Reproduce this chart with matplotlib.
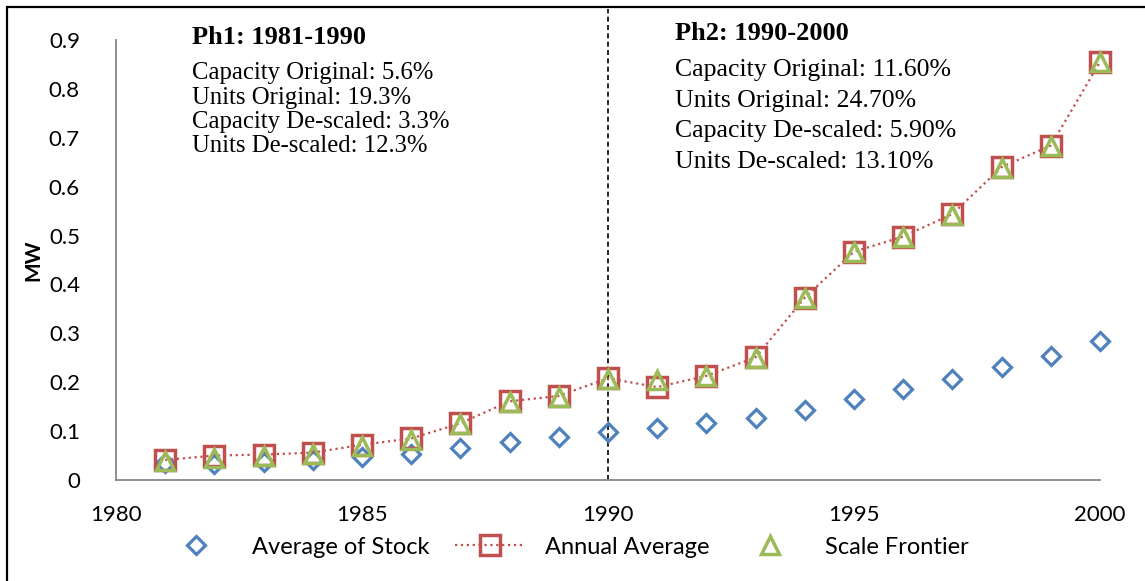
import matplotlib
matplotlib.use("Agg")
import matplotlib.pyplot as plt
from matplotlib.patches import Rectangle

# values
years = list(range(1981, 2001))
avg_stock = [0.035, 0.033, 0.036, 0.041, 0.048, 0.054, 0.065, 0.077, 0.088, 0.099,
             0.107, 0.116, 0.127, 0.144, 0.165, 0.186, 0.206, 0.231, 0.254, 0.284]
annual_avg = [0.041, 0.050, 0.052, 0.056, 0.072, 0.085, 0.116, 0.161, 0.172, 0.208,
              0.190, 0.213, 0.251, 0.373, 0.467, 0.498, 0.544, 0.640, 0.684, 0.855]
scale_frontier = [0.038, 0.046, 0.049, 0.054, 0.070, 0.082, 0.115, 0.160, 0.170, 0.206,
                  0.204, 0.212, 0.249, 0.372, 0.466, 0.497, 0.543, 0.639, 0.683, 0.854]
yticks = [0, 0.1, 0.2, 0.3, 0.4, 0.5, 0.6, 0.7, 0.8, 0.9]
xticks = [1980, 1985, 1990, 1995, 2000]
ph1_lines = ["Capacity Original: 5.6%", "Units Original: 19.3%",
             "Capacity De-scaled: 3.3%", "Units De-scaled: 12.3%"]
ph2_lines = ["Capacity Original: 11.60%", "Units Original: 24.70%",
             "Capacity De-scaled: 5.90%", "Units De-scaled: 13.10%"]

W, H = 1145, 581
fig = plt.figure(figsize=(W / 100, H / 100), dpi=100)
ax = fig.add_axes([116 / W, 1 - 480 / H, (1100 - 116) / W, (480 - 40) / H])

blue = "#4F81BD"
red = "#C0504D"
green = "#9BBB59"

ax.plot(years, avg_stock, linestyle="none", marker="D", ms=9.5, mfc="none",
        mec=blue, mew=2.3, label="Average of Stock", zorder=3, clip_on=False)
ax.plot(years, annual_avg, linestyle=":", color=red, lw=1.6, marker="s", ms=14,
        mfc="none", mec=red, mew=2.5, label="Annual Average", zorder=4, clip_on=False)
ax.plot(years, scale_frontier, linestyle="none", marker="^", ms=13, mfc="none",
        mec=green, mew=2.5, label="Scale Frontier", zorder=5, clip_on=False)

ax.set_xlim(1980, 2000)
ax.set_ylim(0, 0.9)
ax.set_xticks(xticks)
ax.set_yticks(yticks)
ax.set_yticklabels(["0"] + ["%.1f" % v for v in yticks[1:]])
for s in ["top", "right"]:
    ax.spines[s].set_visible(False)
for s in ["left", "bottom"]:
    ax.spines[s].set_color("#868686")
    ax.spines[s].set_linewidth(1.3)
ax.tick_params(length=0, labelsize=16)
ax.tick_params(axis="x", pad=18)
ax.tick_params(axis="y", pad=26)
for lab in ax.get_xticklabels() + ax.get_yticklabels():
    lab.set_fontfamily("Lato")
ax.set_ylabel("MW", fontsize=15, fontweight="bold", fontfamily="Lato", labelpad=4)

# phase divider
ax.axvline(1990, ymin=0, ymax=1.07, color="black", lw=1.2, ls=(0, (3, 2)),
           clip_on=False, zorder=2)

# phase annotations
serif = "Liberation Serif"
fig.text(192 / W, 1 - 38 / H, "Ph1: 1981-1990", fontsize=19, fontweight="bold",
         fontfamily=serif, va="center")
for i, t in enumerate(ph1_lines):
    fig.text(192 / W, 1 - (73 + 24.5 * i) / H, t, fontsize=17.8,
             fontfamily=serif, va="center")
fig.text(675 / W, 1 - 33 / H, "Ph2: 1990-2000", fontsize=19, fontweight="bold",
         fontfamily=serif, va="center")
for i, t in enumerate(ph2_lines):
    fig.text(675 / W, 1 - (70 + 30.7 * i) / H, t, fontsize=18.5,
             fontfamily=serif, va="center")

fig.legend(loc="center", bbox_to_anchor=(0.494, 1 - 547 / H), ncol=3, frameon=False,
           prop={"family": "Lato", "size": 17}, handlelength=2.9,
           handletextpad=0.9, columnspacing=1.1)

# outer frame
fig.patches.append(Rectangle((7 / W, -0.1), 1.2, 1 - 7 / H + 0.1,
                             transform=fig.transFigure, fill=False,
                             edgecolor="black", lw=1.6))

fig.savefig("out.png", dpi=100)
